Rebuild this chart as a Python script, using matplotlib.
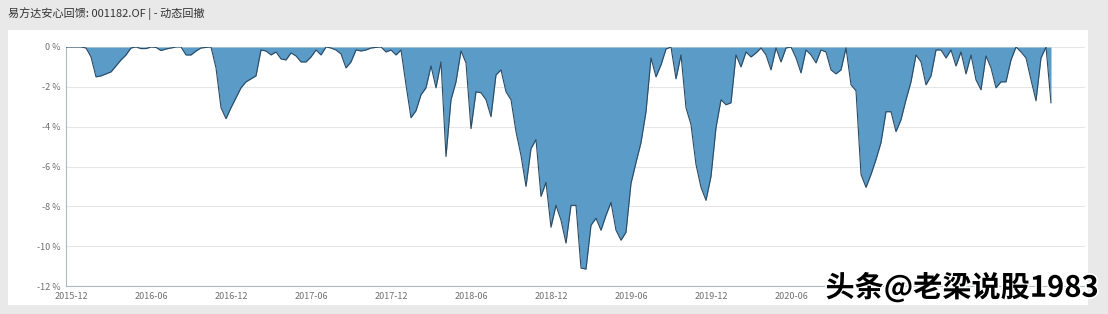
import matplotlib
matplotlib.use("Agg")
import matplotlib.pyplot as plt
import matplotlib.patheffects as pe
from matplotlib.patches import Rectangle
import numpy as np

plt.rcParams['font.family'] = ['Noto Sans CJK SC', 'DejaVu Sans']

title = "易方达安心回馈: 001182.OF | - 动态回撤"

# drawdown in %, one value per sampled trading day
drawdown = [
    0, 0, 0, 0, -0.05, -0.5, -1.5, -1.45, -1.35, -1.25,
    -0.95, -0.65, -0.4, -0.05, 0, -0.08, -0.08, 0, -0.02, -0.18,
    -0.1, -0.05, 0, 0, -0.4, -0.4, -0.2, -0.05, -0.02, 0,
    -1.05, -3.05, -3.6, -3.05, -2.55, -2.05, -1.75, -1.6, -1.45, -0.15,
    -0.2, -0.4, -0.25, -0.6, -0.65, -0.3, -0.45, -0.75, -0.75, -0.5,
    -0.15, -0.4, 0, -0.05, -0.15, -0.35, -1.05, -0.75, -0.15, -0.2,
    -0.15, -0.05, -0.02, 0, -0.25, -0.15, -0.4, -0.15, -1.9, -3.55,
    -3.2, -2.4, -2.05, -0.95, -2.05, -0.75, -5.5, -2.65, -1.75, -0.2,
    -0.8, -4.1, -2.25, -2.3, -2.65, -3.5, -1.4, -1.15, -2.25, -2.65,
    -4.25, -5.45, -7.0, -5.1, -4.65, -7.5, -6.8, -9.05, -7.95, -8.7,
    -9.85, -7.95, -7.95, -11.1, -11.15, -8.95, -8.6, -9.2, -8.45, -7.8,
    -9.2, -9.7, -9.3, -6.85, -5.8, -4.8, -3.25, -0.55, -1.5, -0.9,
    -0.1, 0, -1.6, -0.4, -3.05, -3.9, -5.9, -7.05, -7.7, -6.5,
    -4.05, -2.65, -2.9, -2.8, -0.4, -1.0, -0.25, -0.5, -0.3, -0.05,
    -0.4, -1.15, -0.05, -0.75, -0.05, 0, -0.55, -1.3, -0.15, -0.4,
    -0.8, -0.15, -0.25, -1.15, -1.35, -1.15, -0.05, -1.9, -2.2, -6.4,
    -7.05, -6.4, -5.65, -4.8, -3.25, -3.25, -4.25, -3.65, -2.65, -1.75,
    -0.4, -0.75, -1.9, -1.45, -0.15, -0.15, -0.55, -0.15, -0.95, -0.25,
    -1.35, -0.4, -1.65, -2.15, -0.45, -1.05, -2.05, -1.75, -1.75, -0.65,
    0, -0.25, -0.55, -1.65, -2.7, -0.55, 0, -2.8,
]

tick_labels = ["2015-12", "2016-06", "2016-12", "2017-06", "2017-12",
               "2018-06", "2018-12", "2019-06", "2019-12", "2020-06"]
y_ticks = [0, -2, -4, -6, -8, -10, -12]

fig = plt.figure(figsize=(11.08, 3.14), dpi=100, facecolor="#e9e9e9")
fig.patches.append(Rectangle((8 / 1108, 0.03), 1080 / 1108, 0.875,
                             transform=fig.transFigure, facecolor="white",
                             edgecolor="none", zorder=0))
fig.text(8 / 1108, 1 - 14 / 314, title, fontsize=8, color="#333333", va="center")

ax = fig.add_axes([66 / 1108, 28 / 314, 1019 / 1108, 239 / 314])
ax.set_zorder(2)
ax.set_facecolor("white")

x = np.arange(len(drawdown))
ax.fill_between(x, drawdown, 0, color="#5b9bc8", linewidth=0, zorder=2)
ax.plot(x, drawdown, color="#2b4a63", linewidth=0.8, zorder=3)

ax.set_xlim(0, 203.8)
ax.set_ylim(-12, 0)
ax.set_yticks(y_ticks)
ax.set_yticklabels([f"{v} %" for v in y_ticks])
ax.set_xticks(np.arange(len(tick_labels)) * 16 + 1)
ax.set_xticklabels(tick_labels)
ax.tick_params(axis="both", labelsize=6.5, colors="#707070", length=0, pad=4)
ax.grid(axis="y", color="#e6e6e6", linewidth=0.8, zorder=1)
for side in ["top", "right"]:
    ax.spines[side].set_visible(False)
ax.spines["left"].set_color("#b0b8c0")
ax.spines["bottom"].set_color("#b0b8c0")

# watermark
fig.text(0.745, 0.085, "头条@老梁说股1983", fontsize=21, fontweight="bold",
         color="black", va="center", zorder=5,
         path_effects=[pe.withStroke(linewidth=2.5, foreground="white")])

fig.savefig("out.png", dpi=100, facecolor=fig.get_facecolor())
